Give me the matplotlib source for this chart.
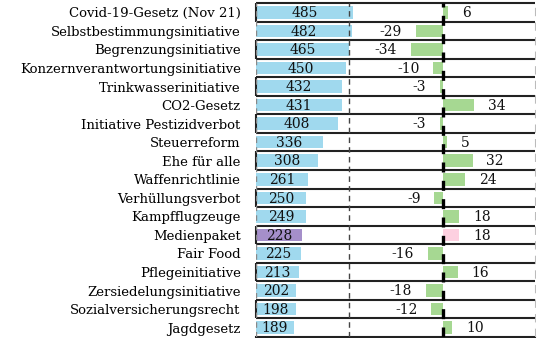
import numpy as np
import matplotlib.pyplot as plt
import matplotlib.transforms as mtransforms

# Data
vorlagen = ["Covid-19-Gesetz (Nov 21)", "Selbstbestimmungsinitiative", "Begrenzungsinitiative",
            "Konzernverantwortungsinitiative", "Trinkwasserinitiative", "CO2-Gesetz",
            "Initiative Pestizidverbot", "Steuerreform", "Ehe für alle", "Waffenrichtlinie",
            "Verhüllungsverbot", "Kampfflugzeuge", "Medienpaket", "Fair Food",
            "Pflegeinitiative", "Zersiedelungsinitiative", "Sozialversicherungsrecht", "Jagdgesetz"]
total = [485, 482, 465, 450, 432, 431, 408, 336, 308, 261, 250, 249, 228, 225, 213, 202, 198, 189]
diff = [6, -29, -34, -10, -3, 34, -3, 5, 32, 24, -9, 18, 18, -16, 16, -18, -12, 10]
highlight = "Medienpaket"

blue, purple = "#a0d9ee", "#a58fca"
green, pink = "#a6d892", "#fdd0e0"

plt.rcParams['font.family'] = ['DejaVu Serif']

fig = plt.figure(figsize=(5.4, 3.38), dpi=100)
ax = fig.add_axes([256/540, 1/338, 280/540, 334/338])
ax2 = ax.twiny()

y = np.arange(len(vorlagen))
c1 = [purple if v == highlight else blue for v in vorlagen]
c2 = [pink if v == highlight else green for v in vorlagen]

ax.barh(y, total, height=0.68, color=c1, zorder=2)
ax.set_xlim(0, 1400)
for yi, t in zip(y, total):
    ax.text(t / 2, yi + 0.04, str(t), ha="center", va="center", fontsize=10, color="#111", zorder=3)

ax2.barh(y, diff, height=0.68, color=c2, zorder=2)
ax2.set_xlim(-200, 100)
for yi, d in zip(y, diff):
    if d >= 0:
        ax2.annotate(str(d), (d, yi + 0.04), xytext=(10, 0), textcoords="offset points",
                     ha="left", va="center", fontsize=10, color="#111")
    else:
        ax2.annotate(str(d), (d, yi + 0.04), xytext=(-10, 0), textcoords="offset points",
                     ha="right", va="center", fontsize=10, color="#111")

ax.set_ylim(len(vorlagen) - 0.5, -0.5)
ax.set_yticks(y)
ax.set_yticklabels(vorlagen, fontsize=9.5)
ax.tick_params(axis="y", length=0, pad=11)
ax.set_xticks([])
ax2.set_xticks([])
for a in (ax, ax2):
    for s in a.spines.values():
        s.set_visible(False)

# grid lines at thirds and the zero line
ax2.axvline(-200, color="#888", lw=1, ls=(0, (4, 3)), zorder=1)
ax2.axvline(-100, color="#444", lw=1, ls=(0, (4, 3)), zorder=1)
ax2.axvline(100, color="#bbb", lw=1.5, ls=(0, (4, 3)), zorder=1)
ax2.axvline(0, color="black", lw=2.4, ls=(0, (3, 2.5)), zorder=4)

# frames around every other row: top, bottom and left edge
trans = mtransforms.blended_transform_factory(ax.transAxes, ax.transData)
for i in range(0, len(vorlagen), 2):
    ax.plot([0, 0.998], [i - 0.5, i - 0.5], color="#222", lw=1.5, transform=trans,
            zorder=5, clip_on=False, solid_capstyle="butt")
    ax.plot([0, 0.998], [i + 0.5, i + 0.5], color="#222", lw=1.5, transform=trans,
            zorder=5, clip_on=False, solid_capstyle="butt")
    ax.plot([0, 0], [i - 0.5, i + 0.5], color="#222", lw=1.5, transform=trans,
            zorder=5, clip_on=False, solid_capstyle="butt")
ax.axhline(len(vorlagen) - 0.5, xmax=0.998, color="#222", lw=1.5, zorder=5, clip_on=False)

fig.savefig("out.png", dpi=100)
